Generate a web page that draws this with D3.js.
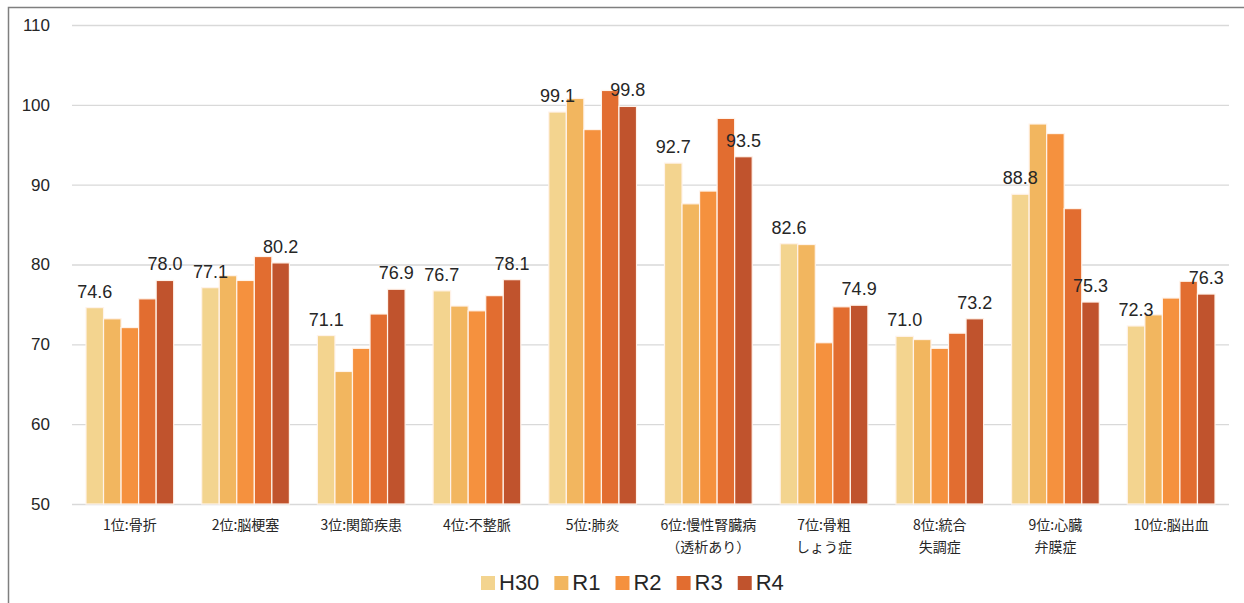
<!DOCTYPE html>
<html>
<head>
<meta charset="utf-8">
<script src="https://cdn.jsdelivr.net/npm/d3@7"></script>
<style>
  body { margin: 0; background: #fff; }
  svg { display: block; }
</style>
</head>
<body>
<div id="chart"></div>
<script>
//************* data ***************/
var categories = [
  ["1位:骨折"], ["2位:脳梗塞"], ["3位:関節疾患"], ["4位:不整脈"], ["5位:肺炎"],
  ["6位:慢性腎臓病", "（透析あり）"], ["7位:骨粗", "しょう症"], ["8位:統合", "失調症"],
  ["9位:心臓", "弁膜症"], ["10位:脳出血"]
];
var seriesNames = ["H30", "R1", "R2", "R3", "R4"];
var H30 = [74.6, 77.1, 71.1, 76.7, 99.1, 92.7, 82.6, 71.0, 88.8, 72.3];
var R1  = [73.2, 78.6, 66.6, 74.8, 100.8, 87.6, 82.5, 70.6, 97.6, 73.7];
var R2  = [72.1, 78.0, 69.5, 74.2, 96.9, 89.2, 70.2, 69.5, 96.4, 75.8];
var R3  = [75.7, 81.0, 73.8, 76.1, 101.8, 98.3, 74.7, 71.4, 87.0, 77.9];
var R4  = [78.0, 80.2, 76.9, 78.1, 99.8, 93.5, 74.9, 73.2, 75.3, 76.3];
var yTicks = [50, 60, 70, 80, 90, 100, 110];
var labelled = ["H30", "R4"];

var seriesValues = {H30: H30, R1: R1, R2: R2, R3: R3, R4: R4};
var colors = ["#F3D48F", "#F2B65F", "#F5913E", "#E26D30", "#C0532D"];

//************* set dimensions ***************/
var W = 1244, H = 603;
var plot = {left: 72, right: 1229, top: 25, bottom: 504};

var svg = d3.select("#chart").append("svg")
  .attr("width", W).attr("height", H);

// frame
svg.append("path")
  .attr("d", "M8.5," + H + "V7.5H" + W)
  .attr("fill", "none")
  .attr("stroke", "#7f7f7f")
  .attr("stroke-width", 1.5);

//************* scales ***************/
var y = d3.scaleLinear().domain([50, 110]).range([plot.bottom, plot.top]);
var x0 = d3.scaleBand().domain(d3.range(categories.length))
  .range([plot.left, plot.right]).padding(0);
var x1 = d3.scaleBand().domain(seriesNames)
  .range([14, x0.bandwidth() - 14]).padding(0);
var color = d3.scaleOrdinal().domain(seriesNames).range(colors);

//************* grid + y axis ***************/
var yAxis = svg.append("g")
  .attr("transform", "translate(" + plot.left + ",0)")
  .call(d3.axisLeft(y).tickValues(yTicks)
    .tickSize(-(plot.right - plot.left)).tickPadding(22));
yAxis.select(".domain").remove();
yAxis.selectAll(".tick line").attr("stroke", "#d9d9d9").attr("stroke-width", 1.3);
yAxis.selectAll(".tick text")
  .attr("fill", "#262626")
  .attr("font-family", "'Liberation Sans Narrow', 'Liberation Sans', sans-serif")
  .attr("font-size", "17px");

//************* bars ***************/
var groups = svg.selectAll(".grp")
  .data(categories)
  .enter().append("g")
  .attr("transform", function(d, i) { return "translate(" + x0(i) + ",0)"; });

groups.selectAll("rect")
  .data(function(d, i) {
    return seriesNames.map(function(s) { return {s: s, v: seriesValues[s][i]}; });
  })
  .enter().append("rect")
  .attr("x", function(d) { return x1(d.s); })
  .attr("y", function(d) { return y(d.v); })
  .attr("width", x1.bandwidth())
  .attr("height", function(d) { return y(50) - y(d.v); })
  .attr("fill", function(d) { return color(d.s); })
  .attr("stroke", "#fff3ea")
  .attr("stroke-width", 1.2);

// value labels (H30 and R4 only)
groups.selectAll(".lbl")
  .data(function(d, i) {
    return labelled.map(function(s) { return {s: s, v: seriesValues[s][i]}; });
  })
  .enter().append("text")
  .attr("x", function(d) { return x1(d.s) + x1.bandwidth() / 2; })
  .attr("y", function(d) { return y(d.v) - 10; })
  .attr("text-anchor", "middle")
  .attr("fill", "#262626")
  .attr("font-family", "'Liberation Sans Narrow', 'Liberation Sans', sans-serif")
  .attr("font-size", "18px")
  .text(function(d) { return d3.format(".1f")(d.v); });

// category labels
groups.append("text")
  .attr("x", x0.bandwidth() / 2)
  .attr("y", 530)
  .attr("text-anchor", "middle")
  .attr("fill", "#262626")
  .attr("font-family", "'Noto Sans CJK JP', sans-serif")
  .attr("font-size", "14px")
  .selectAll("tspan")
  .data(function(d) { return d; })
  .enter().append("tspan")
  .attr("x", x0.bandwidth() / 2)
  .attr("dy", function(d, i) { return i ? 22 : 0; })
  .text(function(d) { return d; });

//************* legend ***************/
var legend = svg.append("g").attr("transform", "translate(481,583)");
var lx = 0;
seriesNames.forEach(function(s) {
  var row = legend.append("g").attr("transform", "translate(" + lx + ",0)");
  row.append("rect")
    .attr("x", 0).attr("y", -7)
    .attr("width", 14).attr("height", 14)
    .attr("fill", color(s));
  var t = row.append("text")
    .attr("x", 18).attr("y", 7)
    .attr("fill", "#262626")
    .attr("font-family", "'Liberation Sans Narrow', 'Liberation Sans', sans-serif")
    .attr("font-size", "22px")
    .text(s);
  lx += 18 + t.node().getComputedTextLength() + 15;
});
</script>
</body>
</html>
